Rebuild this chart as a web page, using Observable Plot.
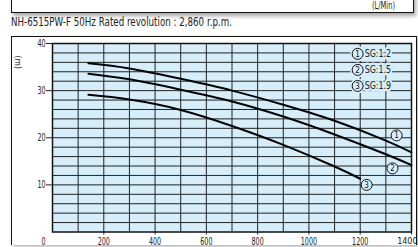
<!DOCTYPE html>
<html><head><meta charset="utf-8">
<script src="https://cdn.jsdelivr.net/npm/d3@7"></script>
<script src="https://cdn.jsdelivr.net/npm/@observablehq/plot@0.6"></script>
<style>
body{margin:0;background:#fff;width:418px;height:247px;overflow:hidden;position:relative;font-family:"DejaVu Sans",sans-serif;}
#topbox{position:absolute;left:11px;top:-10px;width:401px;height:21px;border:1.5px solid #111;box-shadow:2px 3px 4px rgba(0,0,0,0.35);background:#fff;}
#unit{position:absolute;left:360px;top:9px;font-size:11px;line-height:11px;color:#222;white-space:nowrap;transform-origin:left center;}
#subtitle{position:absolute;left:11px;top:16px;font-size:11.5px;line-height:12px;color:#222;white-space:nowrap;transform-origin:left center;}
#outer{position:absolute;left:11px;top:36px;width:404px;height:208px;border:1.5px solid #111;border-bottom:none;box-shadow:2px 2px 4px rgba(0,0,0,0.3);background:#fff;}
#chart{position:absolute;left:0;top:30px;width:418px;}
</style></head>
<body>
<div id="topbox"><div id="unit">(L/Min)</div></div>
<div id="subtitle">NH-6515PW-F 50Hz Rated revolution : 2,860 r.p.m.</div>
<div id="outer"></div>
<div id="chart"></div>
<script>
const flow1 = [140, 300, 500, 700, 900, 1100, 1300, 1400];
const head1 = [35.8, 34.7, 32.5, 30.0, 27.0, 23.6, 19.4, 16.9];
const flow2 = [140, 300, 500, 700, 900, 1100, 1300, 1400];
const head2 = [33.6, 32.4, 30.2, 27.7, 24.5, 20.7, 16.5, 14.2];
const flow3 = [140, 300, 500, 700, 900, 1100, 1200];
const head3 = [29.1, 28.1, 25.9, 22.5, 18.5, 13.9, 11.3];
const seriesNames = ["1", "2", "3"];
const legendLabels = ["SG:1.2", "SG:1.5", "SG:1.9"];
const xTicks = [200, 400, 600, 800, 1000, 1200, 1400];
const yTicks = [10, 20, 30, 40];
const xGrid = d3.range(100, 1400, 100);
const yGrid = d3.range(2, 40, 2);
const tagX = [1342, 1326, 1225];
const tagY = [20.5, 13.5, 10.0];
const legX = [1190, 1190, 1190];
const legY = [37.8, 34.4, 31.0];

const lines = [
  ...flow1.map((f, i) => ({s: "1", x: f, y: head1[i]})),
  ...flow2.map((f, i) => ({s: "2", x: f, y: head2[i]})),
  ...flow3.map((f, i) => ({s: "3", x: f, y: head3[i]}))
];
const tags = seriesNames.map((n, i) => ({n, x: tagX[i], y: tagY[i]}));
const legend = seriesNames.map((n, i) => ({n, label: legendLabels[i], x: legX[i], y: legY[i]}));
const lastTick = xTicks.slice(-1);
const bg = "#d5eefa";

const plot = Plot.plot({
  width: 418, height: 217,
  marginLeft: 52, marginRight: 7, marginTop: 13, marginBottom: 15.5,
  x: {domain: [0, 1400]},
  y: {domain: [0, 40]},
  style: {fontFamily: '"DejaVu Sans",sans-serif', fontSize: "11px", color: "#222", background: "transparent"},
  marks: [
    Plot.frame({fill: bg}),
    Plot.ruleX(xGrid, {stroke: "#222", strokeWidth: 1}),
    Plot.ruleY(yGrid, {stroke: "#222", strokeWidth: 1}),
    Plot.axisY({ticks: yTicks, tickSize: 6, tickPadding: 1, label: null, fontSize: 11, className: "sq"}),
    Plot.axisX({ticks: xTicks.slice(0, -1), tickSize: 3, tickPadding: 2, label: null, fontSize: 11, tickFormat: d3.format("d"), className: "sq"}),
    Plot.axisX({ticks: lastTick, tickSize: 3, text: null, label: null}),
    Plot.text(lastTick, {x: d => d, frameAnchor: "bottom", text: d => String(d), textAnchor: "end", lineAnchor: "top", dx: 6, dy: 6, fontSize: 8}),
    Plot.text(["0"], {frameAnchor: "bottom-left", lineAnchor: "top", dx: -11, dy: 5, fontSize: 11, className: "sq"}),
    Plot.text(["(m)"], {frameAnchor: "top-left", dx: -31, dy: 12, rotate: 90, fontSize: 9, className: "sm"}),
    Plot.line(lines, {x: "x", y: "y", z: "s", curve: "natural", stroke: "#000", strokeWidth: 2}),
    Plot.text(legend, {x: "x", y: "y", text: "label", textAnchor: "start", dx: 7, fontSize: 11, stroke: bg, strokeWidth: 5, fill: "#222", className: "sl"}),
    Plot.dot(legend, {x: "x", y: "y", r: 5.5, fill: bg, stroke: bg, strokeWidth: 4}),
    Plot.dot(legend, {x: "x", y: "y", r: 5.5, fill: bg, stroke: "#111", strokeWidth: 1}),
    Plot.text(legend, {x: "x", y: "y", text: "n", fontSize: 9, fill: "#111", className: "sn"}),
    Plot.dot(tags, {x: "x", y: "y", r: 5.5, fill: bg, stroke: "#111", strokeWidth: 1}),
    Plot.text(tags, {x: "x", y: "y", text: "n", fontSize: 9, fill: "#111", className: "sn"}),
    Plot.frame({stroke: "#111", strokeWidth: 1.5})
  ]
});
document.getElementById("chart").appendChild(plot);

function squeeze(sel, f) {
  d3.select(plot).selectAll(sel).each(function() {
    const w = this.getComputedTextLength();
    if (w > 0) {
      this.setAttribute("textLength", (w * f).toFixed(2));
      this.setAttribute("lengthAdjust", "spacingAndGlyphs");
    }
  });
}
squeeze(".sq text", 0.58);
squeeze(".sl text", 0.72);
squeeze(".sn text", 0.8);
squeeze(".sm text", 0.85);

function fitWidth(id, target) {
  const el = document.getElementById(id);
  const w = el.getBoundingClientRect().width;
  el.style.transform = `scaleX(${target / w})`;
}
fitWidth("subtitle", 221);
fitWidth("unit", 23);
</script>
</body></html>
